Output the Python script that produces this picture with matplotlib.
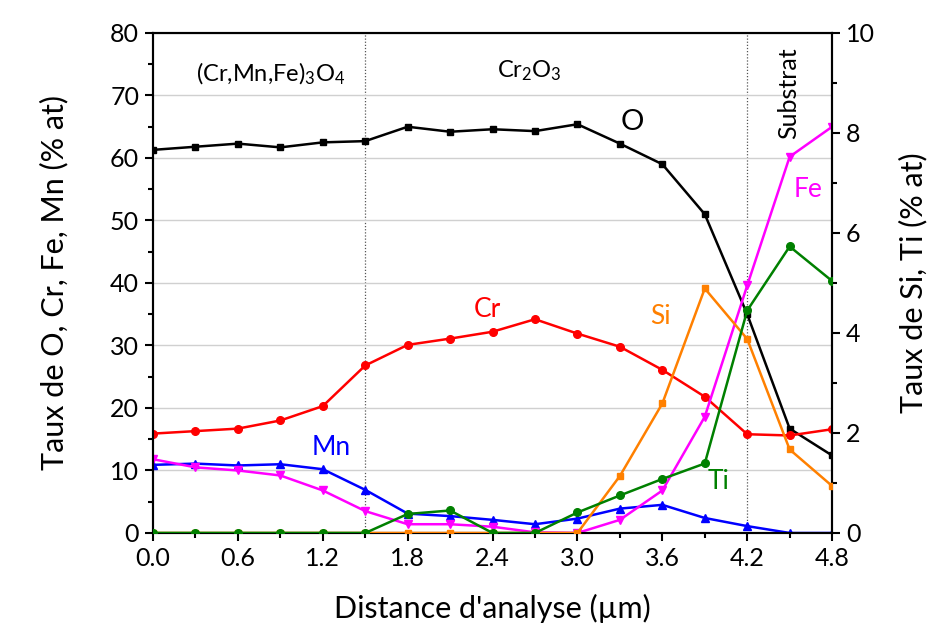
import matplotlib
matplotlib.use("Agg")
import matplotlib.pyplot as plt
from matplotlib.ticker import MultipleLocator

plt.rcParams['font.family'] = ['Lato', 'DejaVu Sans']
plt.rcParams['mathtext.fontset'] = 'custom'
plt.rcParams['mathtext.rm'] = 'Lato'
plt.rcParams['mathtext.it'] = 'Lato'

distance = [0.0, 0.3, 0.6, 0.9, 1.2, 1.5, 1.8, 2.1, 2.4, 2.7, 3.0, 3.3, 3.6, 3.9, 4.2, 4.5, 4.8]
O  = [61.3, 61.8, 62.3, 61.7, 62.5, 62.7, 65.0, 64.2, 64.6, 64.3, 65.4, 62.3, 59.0, 51.0, 35.0, 16.7, 12.4]
Cr = [15.9, 16.3, 16.7, 18.0, 20.3, 26.8, 30.1, 31.1, 32.2, 34.2, 31.9, 29.8, 26.1, 21.8, 15.8, 15.6, 16.6]
Mn = [10.9, 11.1, 10.8, 11.0, 10.2, 6.9, 3.1, 2.7, 2.1, 1.4, 2.3, 3.9, 4.5, 2.4, 1.1, 0.0, 0.0]
Fe = [11.8, 10.5, 10.0, 9.2, 6.8, 3.5, 1.4, 1.4, 1.0, 0.1, 0.0, 2.1, 6.8, 18.6, 39.6, 60.2, 65.0]
Si = [0, 0, 0, 0, 0, 0, 0, 0, 0, 0, 0, 1.14, 2.59, 4.89, 3.88, 1.67, 0.94]
Ti = [0, 0, 0, 0, 0, 0, 0.38, 0.45, 0, 0, 0.41, 0.75, 1.08, 1.39, 4.45, 5.73, 5.04]

fig = plt.figure(figsize=(9.36, 6.37), dpi=100)
ax = fig.add_axes([0.1635, 0.1633, 0.7255, 0.7849])
ax2 = ax.twinx()

lw = 1.8
ms = 5
ax.plot(distance, O, color='black', marker='s', lw=lw, ms=ms, zorder=3)
ax.plot(distance, Cr, color='#ff0000', marker='o', lw=lw, ms=ms + 0.5, zorder=3)
ax.plot(distance, Mn, color='#0000ff', marker='^', lw=lw, ms=ms + 1, zorder=3)
ax.plot(distance, Fe, color='#ff00ff', marker='v', lw=lw, ms=ms + 1, zorder=4)
ax2.plot(distance, Si, color='#ff8000', marker='s', lw=lw, ms=ms, zorder=3)
ax2.plot(distance, Ti, color='#008000', marker='o', lw=lw, ms=ms + 0.5, zorder=3)

ax.set_xlim(0, 4.8)
ax.set_ylim(0, 80)
ax2.set_ylim(0, 10)

ax.xaxis.set_major_locator(MultipleLocator(0.6))
ax.xaxis.set_minor_locator(MultipleLocator(0.3))
ax.yaxis.set_major_locator(MultipleLocator(10))
ax.yaxis.set_minor_locator(MultipleLocator(5))
ax2.yaxis.set_major_locator(MultipleLocator(2))
ax2.yaxis.set_minor_locator(MultipleLocator(1))
ax.xaxis.set_major_formatter(matplotlib.ticker.FormatStrFormatter('%.1f'))

ax.grid(axis='y', which='major', color='#d0d0d0', lw=1.0, zorder=0)
for a in (ax, ax2):
    for s in a.spines.values():
        s.set_linewidth(1.5)
ax.tick_params(axis='both', which='major', direction='out', length=6, width=1.5, labelsize=18, pad=4)
ax.tick_params(axis='both', which='minor', direction='out', length=3.5, width=1.5)
ax2.tick_params(axis='y', which='major', direction='out', length=6, width=1.5, labelsize=18, pad=4)
ax2.tick_params(axis='y', which='minor', direction='out', length=3.5, width=1.5)

for xv in (1.5, 4.2):
    ax.axvline(xv, color='#555555', lw=0.9, ls=(0, (1, 1.5)), zorder=1)

ax.set_xlabel("Distance d'analyse (µm)", fontsize=22, labelpad=17)
ax.set_ylabel("Taux de O, Cr, Fe, Mn (% at)", fontsize=22, labelpad=30)
ax2.set_ylabel("Taux de Si, Ti (% at)", fontsize=22, labelpad=17)

ax.text(0.83, 73.5, r"(Cr,Mn,Fe)$_{3}$O$_{4}$", fontsize=17, ha='center', va='center')
ax.text(2.66, 74.0, r"Cr$_{2}$O$_{3}$", fontsize=17, ha='center', va='center')
ax.text(4.495, 70.4, "Substrat", fontsize=18, ha='center', va='center', rotation=90)
ax.text(3.39, 65.8, "O", fontsize=21, ha='center', va='center', color='black')
ax.text(2.36, 35.7, "Cr", fontsize=19, ha='center', va='center', color='#ff0000')
ax.text(1.26, 13.6, "Mn", fontsize=19, ha='center', va='center', color='#0000ff')
ax.text(3.59, 34.7, "Si", fontsize=19, ha='center', va='center', color='#ff8000')
ax.text(4.0, 8.2, "Ti", fontsize=19, ha='center', va='center', color='#008000')
ax.text(4.63, 54.9, "Fe", fontsize=19, ha='center', va='center', color='#ff00ff')

fig.savefig("out.png", dpi=100)
